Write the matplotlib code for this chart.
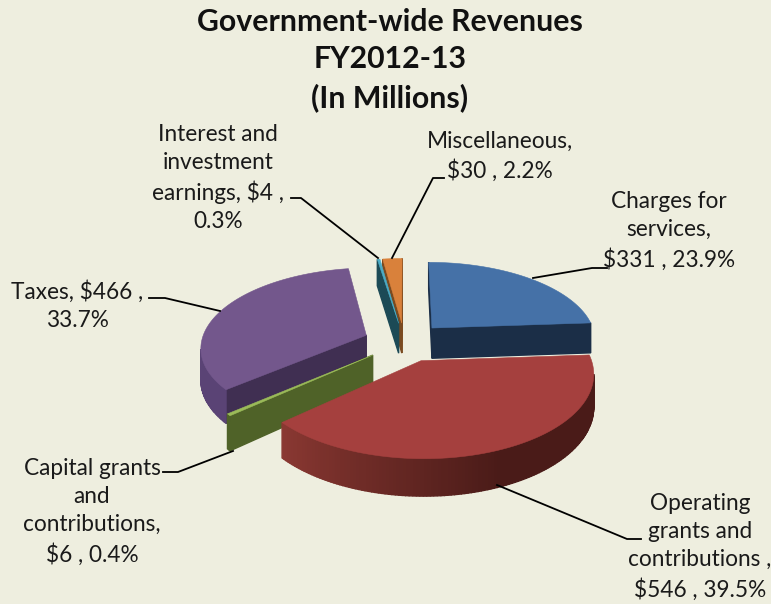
import numpy as np
import matplotlib
matplotlib.use('Agg')
import matplotlib.pyplot as plt
from matplotlib.patches import Polygon

title = 'Government-wide Revenues\nFY2012-13\n(In Millions)'

categories = ['Charges for services', 'Operating grants and contributions',
              'Capital grants and contributions', 'Taxes',
              'Interest and investment earnings', 'Miscellaneous']
dollars = [331, 546, 6, 466, 4, 30]
percents = [23.9, 39.5, 0.4, 33.7, 0.3, 2.2]

# label text split the way it wraps on the chart
label_lines = [
    ['Charges for', 'services,', '$331 , 23.9%'],
    ['Operating', 'grants and', 'contributions ,', '$546 , 39.5%'],
    ['Capital grants', 'and', 'contributions,', '$6 , 0.4%'],
    ['Taxes, $466 ,', '33.7%'],
    ['Interest and', 'investment', 'earnings, $4 ,', '0.3%'],
    ['Miscellaneous,', '$30 , 2.2%'],
]

BG = '#EEEEDF'
top_colors = ['#4571A7', '#A5403E', '#9BBB59', '#73578C', '#4BACC6', '#D9813B']
cut_colors = ['#1B2E47', '#4A1B18', '#4F6228', '#402F52', '#1C4A56', '#7A4A20']
wall_light = ['#1B2E47', '#8A3832', '#4F6228', '#6A5087', '#1C4A56', '#7A4A20']
wall_dark = ['#1B2E47', '#4A1B18', '#4F6228', '#5A4375', '#1C4A56', '#7A4A20']

# perspective pie set-up, in pixels
CX, CY = 404.5, 342
RX, RY = 165, 78.5
PERSP = 0.14
DEPTH = 31
EXPLODE = 0.25


def project(x, y, z=0.0):
    w = 1 - PERSP * y
    return CX + RX * x / w, CY + (RY * y + z) / w


def to_rgb(c):
    return np.array(matplotlib.colors.to_rgb(c))


fig = plt.figure(figsize=(7.71, 6.04), dpi=100, facecolor=BG)
ax = fig.add_axes([0, 0, 1, 1])
ax.set_xlim(0, 771)
ax.set_ylim(604, 0)
ax.axis('off')

# slice angles run clockwise from 12 o'clock
bounds = np.concatenate([[0], np.cumsum(percents)]) / sum(percents) * 2 * np.pi


def draw_slice(i):
    a0, a1 = bounds[i], bounds[i + 1]
    mid = (a0 + a1) / 2
    ox, oy = EXPLODE * np.sin(mid), -EXPLODE * np.cos(mid)
    n = max(int((a1 - a0) / np.radians(1.0)), 2)
    th = np.linspace(a0, a1, n + 1)
    px = ox + np.sin(th)
    py = oy - np.cos(th)
    bx = np.concatenate([[ox], px, [ox]])
    by = np.concatenate([[oy], py, [oy]])

    # side walls, only the ones turned towards the viewer
    for j in range(len(bx) - 1):
        a_top = project(bx[j], by[j])
        b_top = project(bx[j + 1], by[j + 1])
        b_low = project(bx[j + 1], by[j + 1], DEPTH)
        a_low = project(bx[j], by[j], DEPTH)
        quad = np.array([a_top, b_top, b_low, a_low])
        xs, ys = quad[:, 0], quad[:, 1]
        area = np.sum(xs * np.roll(ys, -1) - np.roll(xs, -1) * ys)
        if area >= 0:
            continue
        if j == 0 or j == len(bx) - 2:
            c = cut_colors[i]
        else:
            f = np.clip((a1 - th[j]) / np.radians(70), 0, 1)
            c = to_rgb(wall_light[i]) * (1 - f) + to_rgb(wall_dark[i]) * f
        ax.add_patch(Polygon(quad, closed=True, facecolor=c, edgecolor=c, lw=1.0))

    top = [project(x, y) for x, y in zip(bx[:-1], by[:-1])]
    ax.add_patch(Polygon(top, closed=True, facecolor=top_colors[i],
                         edgecolor=top_colors[i], lw=0.4))


for i in [0, 5, 4, 3, 2, 1]:
    draw_slice(i)

# leader lines
leaders = [
    [(533, 278), (592, 268), (607, 268)],
    [(497, 485), (627, 539), (641, 539)],
    [(233, 451), (178, 472), (163, 472)],
    [(220, 311), (165, 298), (149, 298)],
    [(378, 258), (301, 198), (291, 198)],
    [(392, 258), (433, 178), (444, 178)],
]
for pts in leaders:
    xs, ys = zip(*pts)
    ax.plot(xs, ys, color='black', lw=1.3, solid_joinstyle='round')

ax.text(390, 60, title, ha='center', va='center', family='Lato', weight='bold',
        fontsize=21.8, linespacing=1.42, color='#111111')

# label anchor: centre x, centre y of the block
label_pos = [(669, 231), (700, 547), (92, 512), (77, 306), (218, 178), (500, 156)]
for lines, (lx, ly) in zip(label_lines, label_pos):
    ax.text(lx, ly, '\n'.join(lines), ha='center', va='center', multialignment='center',
            family='Lato', fontsize=16.3, linespacing=1.41, color='#1A1A1A')

fig.savefig('out.png', dpi=100, facecolor=BG)
